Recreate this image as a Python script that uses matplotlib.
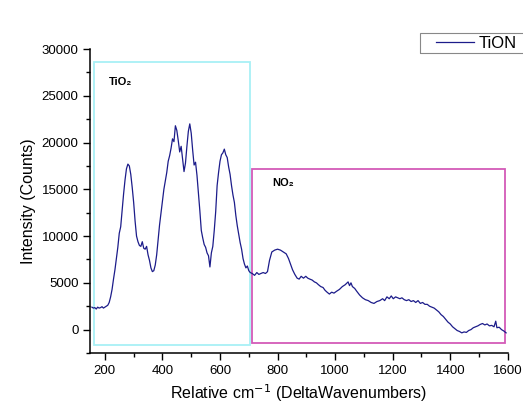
"""Raman spectrum of the TiON film with the TiO2 and NO2 regions boxed."""

import matplotlib

matplotlib.use("Agg")
import matplotlib.pyplot as plt
from matplotlib.patches import Rectangle
from matplotlib.ticker import MultipleLocator

plt.rcParams["font.family"] = ["Liberation Sans", "DejaVu Sans"]

# Raman shift (cm^-1)
wavenumber = [
    155, 160, 165, 170, 175, 180, 185, 190, 195, 200, 205, 210, 215, 220, 225,
    230, 235, 240, 245, 250, 255, 260, 265, 270, 275, 280, 285, 290, 295, 300,
    305, 310, 315, 320, 325, 330, 335, 340, 345, 350, 355, 360, 365, 370, 375,
    380, 385, 390, 395, 400, 405, 410, 415, 420, 425, 430, 435, 440, 445, 450,
    455, 460, 465, 470, 475, 480, 485, 490, 495, 500, 505, 510, 515, 520, 525,
    530, 535, 540, 545, 550, 555, 560, 565, 570, 575, 580, 585, 590, 595, 600,
    605, 610, 615, 620, 625, 630, 635, 640, 645, 650, 655, 660, 665, 670, 675,
    680, 685, 690, 695, 700, 705, 712, 720, 728, 735, 742, 750, 758, 765, 772,
    780, 790, 800, 810, 820, 830, 838, 845, 852, 860, 868, 875, 882, 890, 898,
    905, 912, 920, 928, 935, 942, 950, 958, 965, 972, 980, 988, 996, 1005, 1015,
    1025, 1035, 1045, 1050, 1055, 1060, 1068, 1075, 1085, 1095, 1105, 1115, 1125,
    1135, 1145, 1155, 1165, 1172, 1180, 1188, 1195, 1202, 1210, 1218, 1225, 1232,
    1240, 1248, 1256, 1264, 1272, 1280, 1288, 1296, 1304, 1312, 1320, 1328, 1336,
    1344, 1352, 1360, 1368, 1376, 1384, 1392, 1400, 1408, 1416, 1424, 1432, 1440,
    1448, 1456, 1464, 1472, 1480, 1488, 1496, 1504, 1512, 1520, 1528, 1536, 1544,
    1552, 1558, 1562, 1570, 1578, 1586, 1594,
]

# Intensity (counts)
counts = [
    2400, 2300, 2350, 2200, 2400, 2300, 2350, 2450, 2300, 2400, 2500, 2600, 2900, 3500, 4300,
    5400, 6400, 7600, 8800, 10300, 11000, 12800, 14500, 16000, 17200, 17700, 17500, 16600, 15200, 13600,
    11600, 10000, 9400, 9000, 8900, 9400, 8700, 8600, 8900, 8000, 7400, 6600, 6200, 6300, 6900,
    8000, 9600, 11200, 12500, 13800, 15000, 15900, 16800, 18000, 18600, 19400, 20400, 20100, 21800, 21300,
    20200, 19000, 19600, 18200, 16900, 17800, 19600, 21200, 22000, 21000, 19200, 17600, 17900, 16500, 14600,
    12700, 10600, 9800, 9100, 8800, 8200, 7900, 6700, 8200, 8900, 10600, 12600, 15400, 16800, 18000,
    18700, 18900, 19300, 18700, 18400, 17400, 16600, 15400, 14400, 13600, 12200, 11100, 10200, 9300, 8600,
    7600, 7000, 6600, 6800, 6300, 6100, 6000, 5800, 6100, 5900, 6000, 6100, 6000, 6200, 7400,
    8300, 8500, 8600, 8500, 8300, 8100, 7600, 7000, 6400, 5900, 5500, 5400, 5700, 5500, 5700,
    5500, 5400, 5300, 5100, 5000, 4800, 4600, 4500, 4200, 4000, 3800, 4000, 3900, 4100, 4300,
    4600, 4800, 5100, 4700, 5000, 4600, 4400, 4100, 3700, 3400, 3200, 3100, 2900,
    2800, 3000, 3100, 3300, 3100, 3500, 3300, 3600, 3300, 3500, 3400, 3300, 3400,
    3200, 3100, 3200, 3000, 3100, 2900, 3100, 2800, 2900, 2700, 2700, 2500, 2400,
    2300, 2100, 1900, 1600, 1400, 1100, 800, 600, 300, 100, -100, -200, -350,
    -250, -300, -100, 0, 200, 300, 400, 550, 650, 500, 600, 400, 450,
    300, 900, 200, 250, 0, -150, -350,
]

# Highlighted regions: (x0, x1, y0, y1, colour, label, label x, label y)
regions = [
    (162, 704, -1650, 28650, "#a8f0f6", "TiO₂", 215, 26500),
    (710, 1590, -1450, 17200, "#d35ab8", "NO₂", 780, 15700),
]

W, H = 523, 409
fig = plt.figure(figsize=(W / 100, H / 100), dpi=100)
ax = fig.add_axes([0.173, 0.137, 0.798, 0.743])

ax.plot(wavenumber, counts, color="#1c1c8a", linewidth=0.9, label="TiON")

for x0, x1, y0, y1, colour, text, tx, ty in regions:
    ax.add_patch(Rectangle((x0, y0), x1 - x0, y1 - y0, fill=False,
                           edgecolor=colour, linewidth=1.3, clip_on=False))
    ax.text(tx, ty, text, fontsize=8, fontweight="bold", ha="left", va="center")

ax.set_xlim(150, 1600)
ax.set_ylim(-2500, 30000)
ax.xaxis.set_major_locator(MultipleLocator(200))
ax.xaxis.set_minor_locator(MultipleLocator(100))
ax.yaxis.set_major_locator(MultipleLocator(5000))
ax.yaxis.set_minor_locator(MultipleLocator(2500))
ax.tick_params(which="both", direction="out", labelsize=9.5, width=1)
ax.tick_params(which="major", length=5)
ax.tick_params(which="minor", length=3)
for side in ("top", "right"):
    ax.spines[side].set_visible(False)
for side in ("left", "bottom"):
    ax.spines[side].set_linewidth(1.1)

ax.set_xlabel("Relative cm$^{-1}$ (DeltaWavenumbers)", fontsize=11.5)
ax.set_ylabel("Intensity (Counts)", fontsize=11.5)

# legend box runs off the right edge of the figure
fig.add_artist(Rectangle((420 / W, 1 - 53 / H), 120 / W, 20 / H,
                         transform=fig.transFigure, fill=False,
                         edgecolor="#888888", linewidth=0.8))
fig.legend(loc="center left", bbox_to_anchor=(436 / W, 1 - 43 / H),
           fontsize=12, frameon=False, handlelength=2.3,
           borderpad=0, handletextpad=0.25, borderaxespad=0)

fig.savefig("out.png", dpi=100)
